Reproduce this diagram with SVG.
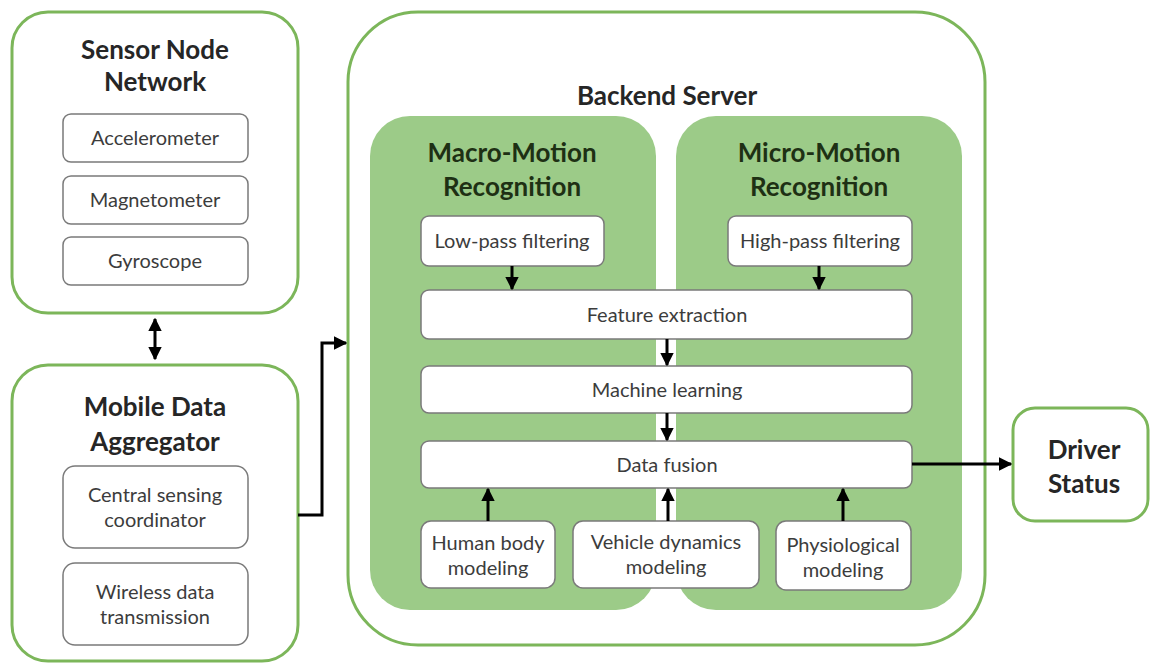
<svg xmlns="http://www.w3.org/2000/svg" width="1150" height="665" viewBox="0 0 1150 665">
<style>
.outer{fill:#fff;stroke:#7cb65a;stroke-width:3}
.panel{fill:#9ccb88}
.box{fill:#fff;stroke:#7a7a7a;stroke-width:1.5}
.t{font-family:Lato,"Open Sans",sans-serif;font-size:20px;fill:#3c3c3c;text-anchor:middle}
.h{font-family:Lato,"Open Sans",sans-serif;font-size:26px;font-weight:bold;fill:#262626;text-anchor:middle}
.hg{font-family:Lato,"Open Sans",sans-serif;font-size:26px;font-weight:bold;fill:#1e3014;text-anchor:middle}
.c{fill:none;stroke:#000;stroke-width:3}
</style>
<defs>
<marker id="ah" viewBox="0 0 10 10" refX="9" refY="5" markerWidth="4.5" markerHeight="4.5" orient="auto-start-reverse" markerUnits="strokeWidth">
<path d="M0,0 L10,5 L0,10 z" fill="#000"/>
</marker>
</defs>
<rect width="1150" height="665" fill="#fff"/>
<g id="sensor-node-network">
<rect class="outer" x="12" y="12" width="286" height="301" rx="36"/>
<text class="h" x="155" y="59">Sensor Node</text>
<text class="h" x="155" y="91">Network</text>
</g>
<g id="accelerometer"><rect class="box" x="63" y="114" width="185" height="48" rx="8"/><text class="t" x="155" y="145">Accelerometer</text></g>
<g id="magnetometer"><rect class="box" x="63" y="176" width="185" height="48" rx="8"/><text class="t" x="155" y="207">Magnetometer</text></g>
<g id="gyroscope"><rect class="box" x="63" y="237" width="185" height="48" rx="8"/><text class="t" x="155" y="268">Gyroscope</text></g>
<g id="mobile-data-aggregator">
<rect class="outer" x="12" y="365" width="286" height="296" rx="36"/>
<text class="h" x="155" y="416">Mobile Data</text>
<text class="h" x="155" y="451">Aggregator</text>
</g>
<g id="central-sensing-coordinator"><rect class="box" x="63" y="466" width="185" height="82" rx="12"/><text class="t" x="155" y="502">Central sensing</text><text class="t" x="155" y="527">coordinator</text></g>
<g id="wireless-data-transmission"><rect class="box" x="63" y="563" width="185" height="82" rx="12"/><text class="t" x="155" y="599">Wireless data</text><text class="t" x="155" y="624">transmission</text></g>
<g id="backend-server">
<rect class="outer" x="348" y="12" width="637" height="633" rx="70"/>
<text class="h" x="667" y="105">Backend Server</text>
</g>
<g id="macro-motion-recognition">
<rect class="panel" x="370" y="116" width="286" height="494" rx="40"/>
<text class="hg" x="512" y="162">Macro-Motion</text>
<text class="hg" x="512" y="196">Recognition</text>
</g>
<g id="micro-motion-recognition">
<rect class="panel" x="676" y="116" width="286" height="494" rx="40"/>
<text class="hg" x="819" y="162">Micro-Motion</text>
<text class="hg" x="819" y="196">Recognition</text>
</g>
<g id="low-pass-filtering"><rect class="box" x="421" y="216" width="183" height="50" rx="8"/><text class="t" x="512" y="248">Low-pass filtering</text></g>
<g id="high-pass-filtering"><rect class="box" x="728" y="216" width="184" height="50" rx="8"/><text class="t" x="820" y="248">High-pass filtering</text></g>
<g id="feature-extraction"><rect class="box" x="421" y="290" width="491" height="49" rx="8"/><text class="t" x="667" y="322">Feature extraction</text></g>
<g id="machine-learning"><rect class="box" x="421" y="366" width="491" height="47" rx="8"/><text class="t" x="667" y="397">Machine learning</text></g>
<g id="data-fusion"><rect class="box" x="421" y="441" width="491" height="47" rx="8"/><text class="t" x="667" y="472">Data fusion</text></g>
<g id="human-body-modeling"><rect class="box" x="421" y="521" width="134" height="67" rx="10"/><text class="t" x="488" y="550">Human body</text><text class="t" x="488" y="575">modeling</text></g>
<g id="vehicle-dynamics-modeling"><rect class="box" x="573" y="521" width="186" height="67" rx="10"/><text class="t" x="666" y="549">Vehicle dynamics</text><text class="t" x="666" y="574">modeling</text></g>
<g id="physiological-modeling"><rect class="box" x="776" y="521" width="135" height="69" rx="10"/><text class="t" x="843" y="552">Physiological</text><text class="t" x="843" y="577">modeling</text></g>
<g id="driver-status">
<rect class="outer" x="1013" y="408" width="135" height="113" rx="22"/>
<text class="h" x="1084" y="459">Driver</text>
<text class="h" x="1084" y="493">Status</text>
</g>
<g id="connectors">
<line class="c" x1="155" y1="319" x2="155" y2="359" marker-start="url(#ah)" marker-end="url(#ah)"/>
<polyline class="c" points="298,515 322,515 322,343 346,343" marker-end="url(#ah)"/>
<line class="c" x1="512" y1="266" x2="512" y2="289" marker-end="url(#ah)"/>
<line class="c" x1="819" y1="266" x2="819" y2="289" marker-end="url(#ah)"/>
<line class="c" x1="667" y1="339" x2="667" y2="365" marker-end="url(#ah)"/>
<line class="c" x1="667" y1="413" x2="667" y2="440" marker-end="url(#ah)"/>
<line class="c" x1="488" y1="521" x2="488" y2="489" marker-end="url(#ah)"/>
<line class="c" x1="668" y1="521" x2="668" y2="489" marker-end="url(#ah)"/>
<line class="c" x1="843" y1="521" x2="843" y2="489" marker-end="url(#ah)"/>
<line class="c" x1="912" y1="464" x2="1011" y2="464" marker-end="url(#ah)"/>
</g>
</svg>
